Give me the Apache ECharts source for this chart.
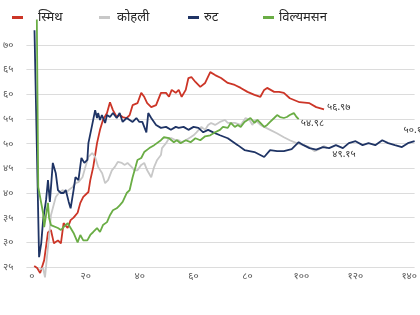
<!DOCTYPE html>
<html><head><meta charset="utf-8">
<script src="https://cdn.jsdelivr.net/npm/echarts@6/dist/echarts.min.js"></script>
<style>html,body{margin:0;padding:0;background:#fff}#c{width:420px;height:315px}</style>
</head><body><div id="c"></div>
<script>
const seriesNames = ['स्मिथ', 'कोहली', 'रुट', 'विल्यमसन'];
const endLabels = ['५६.९७', '४९.१५', '५०.१९', '५४.९८'];
const xTicks = [0, 20, 40, 60, 80, 100, 120, 140];

const smithX = [0.9,2,3.1,4.6,6,7.1,8.2,9.7,10.8,11.8,13.3,14.4,15.5,17,18,19.1,21,21.7,22.8,24.2,25.3,26.4,27.9,29,30.1,31.5,32.6,33.7,35.2,36.3,37.4,39.2,40.6,41.7,42.8,44.3,46.1,47.9,49.8,50.9,51.9,53.4,54.5,55.6,57.1,58.1,59.2,60.7,62.5,64.3,66.2,68,70.2,72.7,75.3,77.5,80,82.6,84.8,86.2,87.3,89.9,91.7,93.5,95.7,99.3,103,105.5,108.4];
const smithY = [25.2,24.8,23.8,26.4,32,32.5,29.8,30.4,29.8,33.9,32.9,34.5,35,36,38,39.2,40.2,42.6,45.3,50.1,52.8,54.8,56.2,58.4,56.8,55.4,55.8,55.4,55.2,55.8,57.8,58.2,60.3,59.5,58.2,57.4,57.8,60.3,60.3,59.5,60.9,60.3,60.9,59.5,60.9,63.3,63.5,62.5,61.5,62.3,64.5,63.9,63.3,62.3,61.9,61.3,60.5,59.9,59.5,60.9,61.3,60.5,60.5,60.3,59.2,58.4,58.2,57.4,56.97];

const kohliX = [2.7,4.2,4.9,5.7,6.4,7.1,8.9,10,11.5,12.6,13.7,15.1,16.2,17.3,18.8,19.9,21,22.4,23.5,24.6,26.1,27.2,28.3,29.7,30.8,31.9,33.4,34.5,35.5,37,38.1,39.2,40.6,41.7,42.8,44.3,45.4,46.5,47.9,48.3,49.8,50.9,51.9,53.4,54.5,55.6,57.1,58.9,60,61.1,62.9,64.3,65.4,66.5,68,69.8,71.6,72.7,75.3,77.5,79.3,80.8,81.8,82.9,84.8,86.2,88.4,90.9,93.5,95.7,98.2,100.8,103,104.8,106.6,108.4,109.6];
const kohliY = [24.4,24.8,22.9,27.4,31,35.5,39.2,40,40.6,40,40.6,41.2,42,42.2,43.2,45.3,47.3,48.1,47.3,45.3,44,42,42.6,44.6,45.3,46.3,46.1,45.7,46.1,45.3,44.6,44.6,45.7,46.1,44.6,43.2,45.3,46.7,47.7,49.1,50.1,51.1,51.1,50.7,50.7,50.3,50.7,51.3,51.7,52.3,53.4,52.8,53.8,54.2,53.8,54.4,54.8,54.2,54.2,53.8,55.2,54.8,53.8,54.8,53.8,53.4,52.8,52.1,51.3,50.7,50.1,49.7,49.3,48.5,48.9,49.5,49.15];

const rootX = [1,2.7,3.5,4.2,5.3,6,6.7,7.8,8.9,9.7,10.8,11.8,12.6,13.7,14.4,15.5,16.2,17.3,18.4,19.5,20.6,21,22.4,23.5,24.2,24.6,25.3,26,27.2,27.9,29,30.1,31.5,32.6,33.7,35.2,36.3,37.4,38.8,39.9,41,42.5,43.2,44.3,46.1,47.9,49.8,51.6,53.4,54.5,56.3,58.1,60,61.8,63.6,65.4,67.3,69.8,72.7,76.4,78.9,82.6,86.2,88.4,91,93.5,96.4,99,100.8,103,105.5,108,110.3,112.8,115.4,117.6,120.1,122.7,124.9,127.4,130,132.2,134.7,137.3,139.5,142];
const rootY = [73,27,29.8,34.5,38.6,42.6,38.2,46.1,44,40.6,40,40,40.6,38.2,36.9,40.6,43.2,42.6,47.1,46.1,46.7,50.1,53.8,56.8,55.2,56.2,54.8,55.8,54.2,55.8,55.4,56.2,55.2,56.2,54.4,55.2,54.8,54.4,55.2,54.4,54.4,52.3,56.2,55.2,53.8,53.2,53.4,52.8,53.4,53.2,53.4,52.8,53.4,53.2,52.3,52.8,52.3,51.7,51.1,49.7,48.7,48.3,47.3,48.7,48.5,48.5,48.9,50.3,49.7,49.1,48.8,49.3,49.1,49.7,49.1,50.1,50.5,49.7,50.1,49.7,50.7,50.1,49.7,49.3,50.1,50.5];

const willX = [1,2.4,4.2,4.6,6,6.4,7.1,9.7,10.8,11.8,13.3,14.4,15.5,17,18,19.1,20.6,21.7,22.8,24.2,25.3,26.4,27.9,29,30.1,31.5,32.6,33.7,35.2,36.3,37.4,38.5,39.2,40.6,41.7,43.6,45.4,47.9,49,50.9,52.7,53.8,55.2,57.1,58.9,60.7,62.5,64.3,66.2,68,69.8,70.9,72.7,73.8,75.3,76.4,77.5,78.9,80,81.1,82.6,83.7,84.8,86.2,87.3,88.4,89.9,91,92.1,93.5,94.6,95.7,97.2,98.2,99];
const willY = [131,41.2,35.9,33.1,38,35,33.5,32.9,32.5,33.1,33.9,32.9,31.9,30,31.5,30.4,30.4,31.5,32.1,32.9,32.1,33.5,34.1,35.5,36.5,36.9,37.5,38.2,40,40.6,43.2,45.3,46.7,47.1,48.3,49.1,49.7,50.7,51.3,51.1,50.3,50.7,50.1,50.7,50.3,51.1,50.7,51.5,51.7,52.3,52.8,53.4,53.2,54.2,53.4,53.8,53.4,54.4,54.8,55.2,54.2,54.8,54.2,53.4,53.8,54.4,55.2,55.8,55.4,55.2,55.4,55.8,56.2,55.4,54.98];

const devDigits = '०१२३४५६७८९';
function toDev(v) { return String(v).replace(/[0-9]/g, d => devDigits[+d]); }
function pairs(xs, ys) { const n = Math.min(xs.length, ys.length); const out = []; for (let i = 0; i < n; i++) out.push([xs[i], ys[i]]); return out; }

const colors = ['#cc3527', '#c8c8c8', '#1f3465', '#6aad45'];
const dataSets = [pairs(smithX, smithY), pairs(kohliX, kohliY), pairs(rootX, rootY), pairs(willX, willY)];
const labelCfg = [
  { distance: 3, offset: [0, -2] },
  { distance: 5, offset: [0, 6] },
  { distance: 5, offset: [-22, -11] },
  { distance: 2, offset: [0, 4] }
];
const legendPos = [
  { left: 7, pad: [0, 0, 0, 10] },
  { left: 94, pad: [0, 0, 0, 2] },
  { left: 183, pad: [0, 0, 0, 0] },
  { left: 258, pad: [0, 0, 0, 0] }
];
const font = '"Noto Sans", "DejaVu Sans", sans-serif';

const chart = echarts.init(document.getElementById('c'), null, { renderer: 'canvas' });
chart.setOption({
  animation: false,
  backgroundColor: '#fff',
  color: colors,
  legend: seriesNames.map((n, i) => ({
    data: [n], left: legendPos[i].left, top: 6,
    icon: 'rect', itemWidth: 11, itemHeight: 3,
    textStyle: { fontSize: 13, color: '#262626', fontFamily: font, padding: legendPos[i].pad }
  })),
  grid: { left: 25, right: 0, top: 20.3, bottom: 23.3, containLabel: false },
  xAxis: {
    type: 'value', min: -2, max: 142,
    axisLine: { show: false }, axisTick: { show: false }, splitLine: { show: false },
    axisLabel: { customValues: xTicks, formatter: v => toDev(v), margin: -21, fontSize: 10, color: '#555', fontFamily: font }
  },
  yAxis: {
    type: 'value', min: 20, max: 75, interval: 5,
    axisLine: { show: false }, axisTick: { show: false },
    splitLine: { show: true, showMinLine: false, showMaxLine: false, lineStyle: { color: '#dcdcdc', width: 1 } },
    axisLabel: { formatter: v => (v === 20 || v === 75) ? '' : toDev(v), margin: 13, fontSize: 10, color: '#555', fontFamily: font }
  },
  series: seriesNames.map((n, i) => ({
    name: n, type: 'line', data: dataSets[i], showSymbol: false, symbol: 'none',
    lineStyle: { width: 1.8, color: colors[i] }, itemStyle: { color: colors[i] },
    clip: true,
    endLabel: {
      show: true, formatter: endLabels[i], distance: labelCfg[i].distance,
      offset: i === 2 ? [-16, -11] : labelCfg[i].offset,
      fontSize: 10, color: '#333', fontFamily: font
    }
  }))
});
</script>
</body></html>
